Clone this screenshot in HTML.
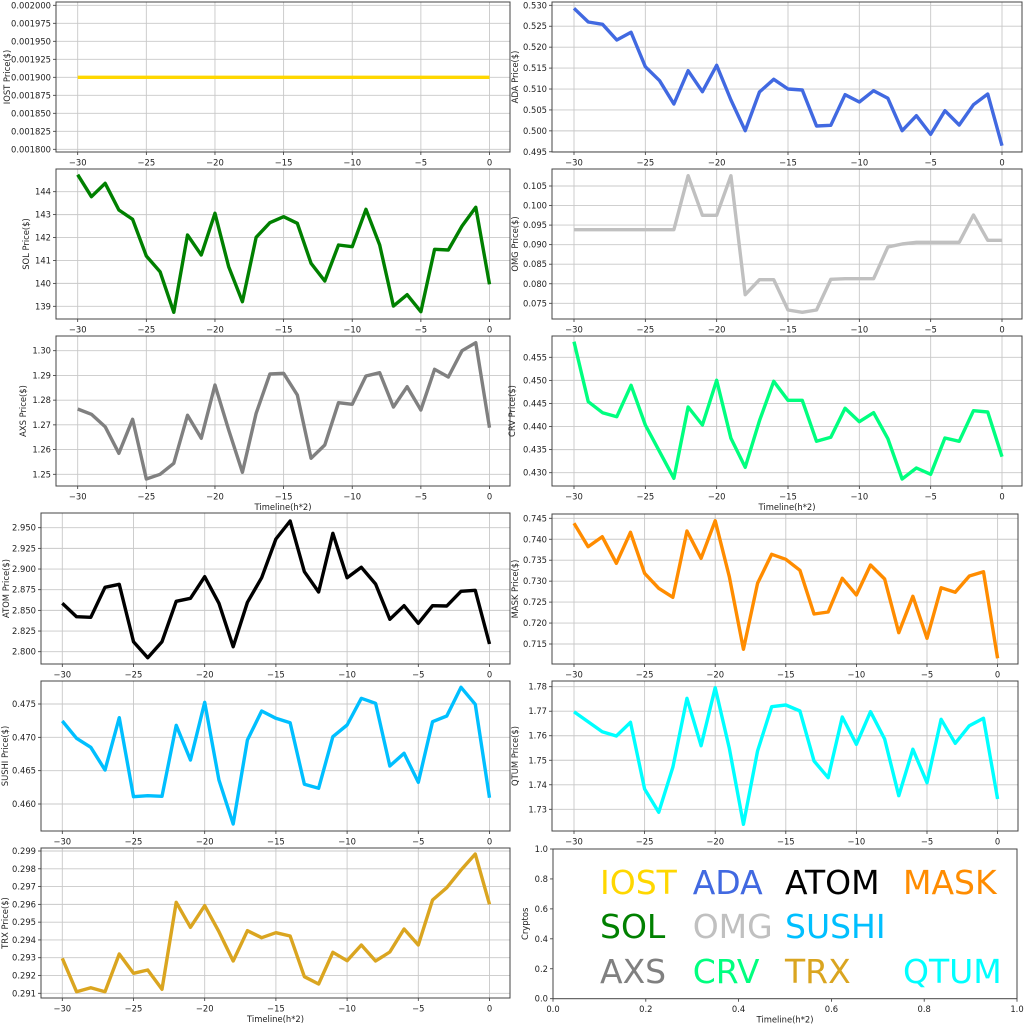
<!DOCTYPE html>
<html><head><meta charset="utf-8"><style>
html,body{margin:0;padding:0;background:#fff;}
svg{display:block;}
text{font-family:"DejaVu Sans","Liberation Sans",sans-serif;}
</style></head><body>
<svg id="s" width="1024" height="1024" xmlns="http://www.w3.org/2000/svg"></svg>
<script>
const NS="http://www.w3.org/2000/svg";
const svg=document.getElementById('s');
function el(tag,attrs,txt){const e=document.createElementNS(NS,tag);for(const k in attrs)e.setAttribute(k,attrs[k]);if(txt!==undefined)e.textContent=txt;svg.appendChild(e);return e;}
function ticks(vals,y0,y1){const n=vals.length-1;return vals.map((v,i)=>({l:v,y:y0+(y1-y0)*i/n}));}
const P=[
{b:[56,2,510,152],x0:77.7,x1:489.5,c:'#FFD700',lab:'IOST Price($)',lx:7,
 yt:ticks(['0.002000','0.001975','0.001950','0.001925','0.001900','0.001875','0.001850','0.001825','0.001800'],5.3,149.3),
 d:Array(31).fill(77.3)},
{b:[552,2,1022,152],x0:574,x1:1002,c:'#4169E1',lab:'ADA  Price($)',lx:515,
 yt:ticks(['0.530','0.525','0.520','0.515','0.510','0.505','0.500','0.495'],5.3,151.8),
 d:[8.3,22,24.3,40,32.3,66.7,80.7,104,70.7,91.7,65.3,100,130.7,92,79.3,89,90,126,125.3,94.7,102,90.7,98.3,130.7,115.7,134.3,110.7,125,104.7,94,145.7]},
{b:[56,169,510,319],x0:77.7,x1:489.5,c:'#008000',lab:'SOL Price($)',lx:26,
 yt:ticks(['144','143','142','141','140','139'],191.7,306.3),
 d:[174.7,196.7,183.3,210,219.3,256,271.7,312.3,235,255,213.3,266.7,301.7,237.3,222.7,216.7,223.3,263.3,281,245,246.7,209.3,245,306,294.7,311.7,249.3,250,226,207.3,284.3]},
{b:[552,169,1022,319],x0:574,x1:1002,c:'#C0C0C0',lab:'OMG  Price($)',lx:515,
 yt:ticks(['0.105','0.100','0.095','0.090','0.085','0.080','0.075'],186,303.3),
 d:[229.7,229.7,229.7,229.7,229.7,229.7,229.7,229.7,175.7,215.3,215.3,175.7,294.7,279.7,279.7,310,312.3,310,279.3,278.7,278.7,278.7,247,244,242.3,242.3,242.3,242.3,215,240.3,240.3]},
{b:[56,336,510,486],x0:77.7,x1:489.5,c:'#808080',lab:'AXS Price($)',lx:23,xl:true,
 yt:ticks(['1.30','1.29','1.28','1.27','1.26','1.25'],350.7,474.3),
 d:[409,414.3,426.7,453.3,419.3,479,474.3,463.3,415.3,438.3,385,430,472.3,413.3,374,373.3,395,458.3,445,402.7,404.3,376,372.7,407,386.7,410,369.3,377,350.7,342.7,427.7]},
{b:[552,336,1022,486],x0:574,x1:1002,c:'#00FF7F',lab:'CRV  Price($)',lx:512,xl:true,
 yt:ticks(['0.455','0.450','0.445','0.440','0.435','0.430'],357.3,472.7),
 d:[341.7,401.7,412.7,416.7,385.3,425,451.7,478.3,407,425,380.3,438.3,467.3,420.7,381.3,400.3,400.3,441.3,437.3,408.3,421.7,412.7,438.7,479,468,474.3,438,441.3,410.7,412,456.7]},
{b:[41,513,510,664],x0:62.3,x1:489.5,c:'#000000',lab:'ATOM  Price($)',lx:6,
 yt:ticks(['2.950','2.925','2.900','2.875','2.850','2.825','2.800'],527.7,651.7),
 d:[603.3,616.7,617.3,587.3,584.3,641.7,657.7,641.7,601.3,598.3,576.7,603.3,646.7,602.3,577.7,539,521,571.7,592,533.3,577.7,567.3,584,619.3,605.7,623.3,605.7,606,591.3,590.3,644]},
{b:[552,514,1018,664],x0:574,x1:997.6,c:'#FF8C00',lab:'MASK  Price($)',lx:515,
 yt:ticks(['0.745','0.740','0.735','0.730','0.725','0.720','0.715'],518.3,644),
 d:[523.3,546.7,536.7,563.3,532.3,573.3,588.3,597.3,531,558.3,520.7,576.7,649.3,583.3,554.3,559.3,570.3,614,612,578.3,595,565,579,632.7,596.3,638.3,587.7,592.3,576,571.7,658.3]},
{b:[41,681,510,831],x0:62.3,x1:489.5,c:'#00BFFF',lab:'SUSHI  Price($)',lx:5,
 yt:ticks(['0.475','0.470','0.465','0.460'],704,804),
 d:[721,738.3,747.3,770,717.7,796.7,795.7,796.3,725.3,760,702.3,780,824,740,711,718.3,722.7,784.3,788.3,736.7,725,698.3,703.3,766,753.3,782.3,721.7,716,687.3,704.3,797.7]},
{b:[552,681,1018,831],x0:574,x1:997.6,c:'#00FFFF',lab:'QTUM Price($)',lx:515,
 yt:ticks(['1.78','1.77','1.76','1.75','1.74','1.73'],686.7,809.3),
 d:[711.7,721.7,731.7,736,722.3,789,812.3,767.3,698.3,745.7,687.7,748.3,824.3,751,706.7,705,711,761,777.7,717,744.3,711.7,739,795.7,749.3,782.7,719.3,743.3,725.7,718.3,799]},
{b:[41,848,510,998],x0:62.3,x1:489.5,c:'#DAA520',lab:'TRX Price($)',lx:5,xl:true,
 yt:ticks(['0.299','0.298','0.297','0.296','0.295','0.294','0.293','0.292','0.291'],851,993.3),
 d:[958.3,991.7,987.7,991.7,954,973.3,970,989.3,902.3,927.3,905.7,931.7,961,930.7,937.7,932.7,936,976.7,984,952.3,960.7,945,961,952,929,945,900,887.7,870,854,904.3]}
];
const FS=8.4;
P.forEach(p=>{
 const [l,t,r,b]=p.b;
 const xs=i=>p.x0+(p.x1-p.x0)*i/30;
 // grid
 for(let k=0;k<=6;k++){const x=xs(k*5);el('line',{x1:x,y1:t,x2:x,y2:b,stroke:'#c8c8c8','stroke-width':0.9});}
 p.yt.forEach(o=>{el('line',{x1:l,y1:o.y,x2:r,y2:o.y,stroke:'#c8c8c8','stroke-width':0.9});
  el('line',{x1:l-3,y1:o.y,x2:l,y2:o.y,stroke:'#333','stroke-width':0.8});
  el('text',{x:l-5,y:o.y+3,'font-size':FS,'text-anchor':'end',fill:'#222'},o.l);});
 for(let k=0;k<=6;k++){const x=xs(k*5);el('line',{x1:x,y1:b,x2:x,y2:b+3,stroke:'#333','stroke-width':0.8});
  el('text',{x:x,y:b+13.5,'font-size':FS,'text-anchor':'middle',fill:'#222'},k==6?'0':'\u2212'+(30-k*5));}
 el('polyline',{points:p.d.map((y,i)=>xs(i)+','+y).join(' '),fill:'none',stroke:p.c,'stroke-width':3.4,'stroke-linejoin':'round'});
 el('rect',{x:l,y:t,width:r-l,height:b-t,fill:'none',stroke:'#444','stroke-width':1});
 const cy=(t+b)/2;
 el('text',{x:p.lx,y:cy,'font-size':FS,'text-anchor':'middle',fill:'#222',transform:`rotate(-90 ${p.lx} ${cy})`,'dominant-baseline':'central'},p.lab);
 if(p.xl) el('text',{x:(l+r)/2,y:b+24,'font-size':FS,'text-anchor':'middle',fill:'#222'},'Timeline(h*2)');
});
// legend panel
(function(){
 const l=553,t=849,r=1017,b=998.7;
 for(let i=0;i<=5;i++){const y=b-(b-t)*i/5;el('line',{x1:l-3,y1:y,x2:l,y2:y,stroke:'#333','stroke-width':0.8});
  el('text',{x:l-5,y:y+3,'font-size':FS,'text-anchor':'end',fill:'#222'},(i/5).toFixed(1));
  const x=l+(r-l)*i/5;el('line',{x1:x,y1:b,x2:x,y2:b+3,stroke:'#333','stroke-width':0.8});
  el('text',{x:x,y:b+13.5,'font-size':FS,'text-anchor':'middle',fill:'#222'},(i/5).toFixed(1));}
 el('rect',{x:l,y:t,width:r-l,height:b-t,fill:'none',stroke:'#444','stroke-width':1});
 el('text',{x:525,y:(t+b)/2,'font-size':FS,'text-anchor':'middle','dominant-baseline':'central',fill:'#222',transform:`rotate(-90 525 ${(t+b)/2})`},'Cryptos');
 el('text',{x:(l+r)/2,y:b+24,'font-size':FS,'text-anchor':'middle',fill:'#222'},'Timeline(h*2)');
 const L=[['IOST',600,894,'#FFD700'],['ADA',692.7,894,'#4169E1'],['ATOM',785,894,'#000'],['MASK',903,894,'#FF8C00'],
 ['SOL',600,938,'#008000'],['OMG',692.7,938,'#C0C0C0'],['SUSHI',785,938,'#00BFFF'],
 ['AXS',600,983,'#808080'],['CRV',692.7,983,'#00FF7F'],['TRX',785,983,'#DAA520'],['QTUM',903,983,'#00FFFF']];
 L.forEach(a=>el('text',{x:a[1],y:a[2],'font-size':33,fill:a[3]},a[0]));
})();
</script>
</body></html>
